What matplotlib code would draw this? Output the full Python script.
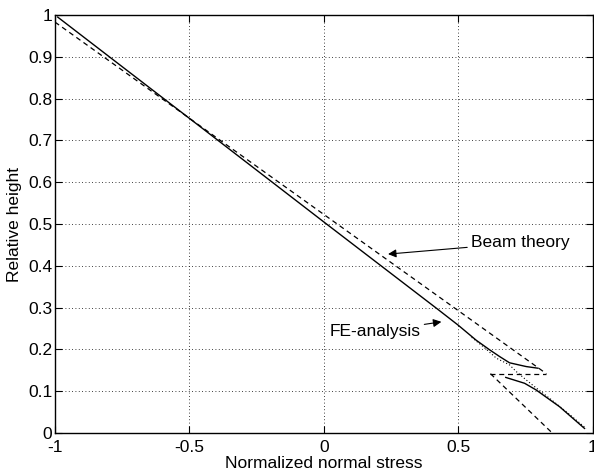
import matplotlib.pyplot as plt

plt.rcParams['font.family'] = ['Liberation Sans', 'DejaVu Sans']

# FE-analysis (solid), upper part and lower part
fe_upper_x = [-0.99, -0.45, 0.0, 0.42, 0.50, 0.567, 0.617, 0.654, 0.691, 0.753, 0.797]
fe_upper_y = [0.995, 0.728, 0.505, 0.298, 0.258, 0.222, 0.199, 0.183, 0.168, 0.159, 0.155]
fe_lower_x = [0.677, 0.747, 0.790, 0.877, 0.970]
fe_lower_y = [0.133, 0.119, 0.103, 0.063, 0.011]

# third (dotted) curve near the bottom
dot_x = [0.55, 0.60, 0.642, 0.691, 0.716, 0.753, 0.784, 0.840, 0.902, 0.976]
dot_y = [0.229, 0.203, 0.179, 0.163, 0.147, 0.127, 0.111, 0.083, 0.051, 0.011]

# Beam theory (dashed)
beam_upper_x = [-1.0, 0.828]
beam_upper_y = [0.983, 0.142]
beam_jump_x = [0.62, 0.828]
beam_jump_y = [0.142, 0.142]
beam_lower_x = [0.62, 0.85]
beam_lower_y = [0.142, 0.0]

x_ticks = [-1, -0.5, 0, 0.5, 1]
y_ticks = [0, 0.1, 0.2, 0.3, 0.4, 0.5, 0.6, 0.7, 0.8, 0.9, 1]

FS = 12.5

fig = plt.figure(figsize=(5.94, 4.76), dpi=100)
ax = fig.add_axes([0.0926, 0.0903, 0.905, 0.8782])

ax.plot(fe_upper_x, fe_upper_y, 'k-', lw=1.0)
ax.plot(fe_lower_x, fe_lower_y, 'k-', lw=1.0)
ax.plot(dot_x, dot_y, 'k', ls=(0, (1, 2)), lw=0.8)
for xs, ys in [(beam_upper_x, beam_upper_y), (beam_jump_x, beam_jump_y),
               (beam_lower_x, beam_lower_y)]:
    ax.plot(xs, ys, 'k', ls=(0, (4, 3)), lw=0.9)

ax.annotate('Beam theory', xy=(0.239, 0.428), xytext=(0.549, 0.455),
            fontsize=FS, va='center', ha='left',
            arrowprops=dict(arrowstyle='-|>', color='k', lw=0.8,
                            mutation_scale=12, shrinkA=1, shrinkB=0))
ax.annotate('FE-analysis', xy=(0.4375, 0.266), xytext=(0.02, 0.242),
            fontsize=FS, va='center', ha='left',
            arrowprops=dict(arrowstyle='-|>', color='k', lw=0.8,
                            mutation_scale=12, shrinkA=1, shrinkB=0))

ax.set_xlim(-1, 1)
ax.set_ylim(0, 1)
ax.set_xticks(x_ticks)
ax.set_xticklabels(['-1', '-0.5', '0', '0.5', '1'])
ax.set_yticks(y_ticks)
ax.set_yticklabels(['0', '0.1', '0.2', '0.3', '0.4', '0.5', '0.6', '0.7', '0.8', '0.9', '1'])
ax.tick_params(direction='in', top=True, right=True, labelsize=FS, length=5, width=0.8, pad=2)
ax.tick_params(axis='x', pad=5)
ax.grid(True, color='k', ls=(0, (1, 3)), lw=0.6)
for s in ax.spines.values():
    s.set_linewidth(1.0)

ax.set_xlabel('Normalized normal stress', fontsize=FS, labelpad=1)
ax.set_ylabel('Relative height', fontsize=FS, labelpad=4)

fig.savefig('out.png', dpi=100)
